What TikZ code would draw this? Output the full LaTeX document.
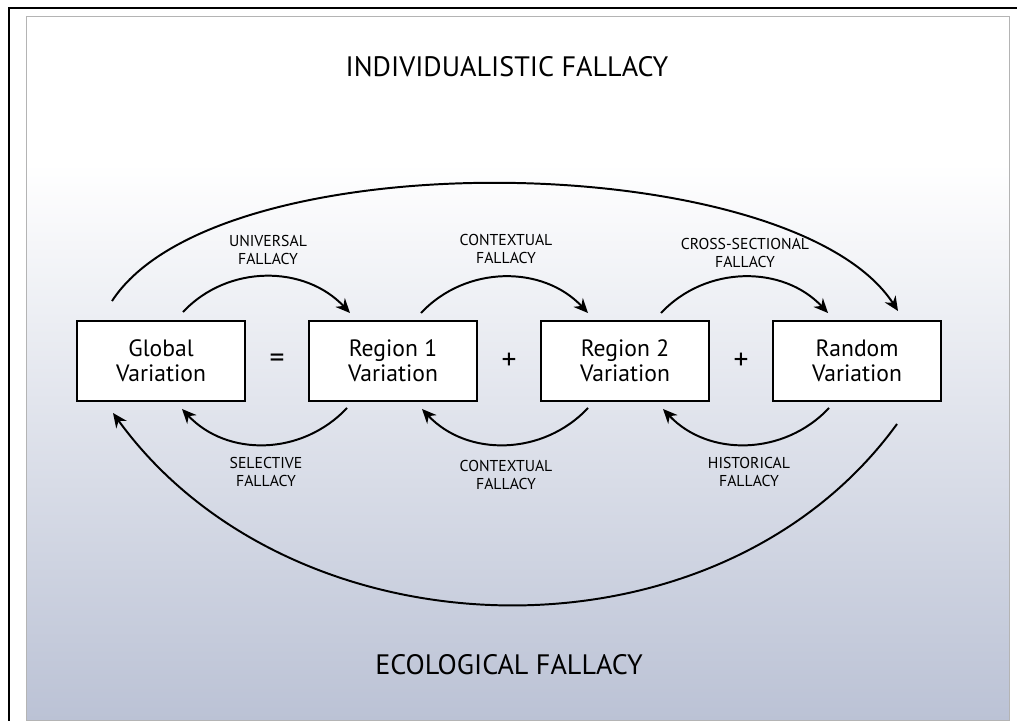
\documentclass[tikz,border=0pt]{standalone}
\usepackage{fontspec}
\setmainfont{PT Sans}
\usepackage{tikz}
\usetikzlibrary{arrows.meta, positioning}
\definecolor{panelmid}{HTML}{EEF0F4}
\definecolor{panelbot}{HTML}{BBC2D5}
\definecolor{panelline}{HTML}{B4B4B4}

\begin{document}
\begin{tikzpicture}[x=0.25mm,y=-0.25mm,>={Stealth[length=3.6mm,width=3.2mm]},
                    node distance=5.8cm,line width=1.4pt]
\tikzstyle{var}=[draw=black,fill=white,minimum width=42mm,minimum height=20mm,align=center,
                 font=\fontsize{16.8pt}{18pt}\selectfont]
\tikzstyle{fallacy}=[align=center,font=\fontsize{11.2pt}{13.1pt}\selectfont]
\tikzstyle{bigfallacy}=[font=\fontsize{20pt}{22pt}\selectfont]
\tikzstyle{op}=[font=\fontsize{21pt}{22pt}\selectfont]
\useasboundingbox (0,0) rectangle (1017,721);

        % background panel
        \fill[white] (26,16) rectangle (1009,163);
        \shade[top color=white,middle color=panelmid,bottom color=panelbot,line width=0pt]
              (26,163) rectangle (1009,720);
        \draw[panelline,line width=0.6pt] (26,16) rectangle (1009,720);
        \draw[line width=1.1pt] (9,721) -- (9,8) -- (1017,8);

        \node[var]                (G)                    at (161,361)  {Global\\Variation};
        \node[var]                (R1)   [right of=G]                  {Region 1\\Variation};
        \node[var]                (R2)   [right of=R1]                 {Region 2\\Variation};
        \node[var]                (R)    [right of=R2]                 {Random\\Variation};

        \path (G.east)  -- node[op] (eq) {=} (R1.west);
        \path (R1.east) -- node[op] (p1) {+} (R2.west);
        \path (R2.east) -- node[op] (p2) {+} (R.west);

        \node[bigfallacy]         (ind)                  at (507,67)   {INDIVIDUALISTIC FALLACY};
        \node[bigfallacy]         (eco)                  at (509,665)  {ECOLOGICAL FALLACY};

        \node[fallacy]            (uni)                  at (268,250)  {UNIVERSAL\\FALLACY};
        \node[fallacy]            (con1)                 at (506,249)  {CONTEXTUAL\\FALLACY};
        \node[fallacy]            (cro)                  at (745,253)  {CROSS-SECTIONAL\\FALLACY};
        \node[fallacy]            (sel)                  at (266,472)  {SELECTIVE\\FALLACY};
        \node[fallacy]            (con2)                 at (506,475)  {CONTEXTUAL\\FALLACY};
        \node[fallacy]            (his)                  at (749,472)  {HISTORICAL\\FALLACY};

        % small arcs above the boxes
        \draw[->] ([shift={(22,-8)}]G.north)   .. controls +(45,-48) and +(-45,-48) .. ([shift={(-43,-7)}]R1.north);
        \draw[->] ([shift={(28,-7)}]R1.north)  .. controls +(45,-48) and +(-45,-48) .. ([shift={(-37,-7)}]R2.north);
        \draw[->] ([shift={(36,-7)}]R2.north)  .. controls +(45,-48) and +(-45,-48) .. ([shift={(-29,-7)}]R.north);
        % small arcs below the boxes
        \draw[->] ([shift={(-46,6)}]R1.south)  .. controls +(-45,48) and +(45,48) .. ([shift={(21,7)}]G.south);
        \draw[->] ([shift={(-37,6)}]R2.south)  .. controls +(-45,48) and +(45,48) .. ([shift={(29,7)}]R1.south);
        \draw[->] ([shift={(-28,6)}]R.south)   .. controls +(-45,48) and +(45,48) .. ([shift={(38,7)}]R2.south);
        % big arcs
        \draw[->] ([shift={(-49,-19)}]G.north) .. controls +(106,-163) and +(-106,-163) .. ([shift={(41,-9)}]R.north);
        \draw[->] ([shift={(40,22)}]R.south)   .. controls +(-180,248) and +(180,248) .. ([shift={(-48,11)}]G.south);
\end{tikzpicture}
\end{document}
